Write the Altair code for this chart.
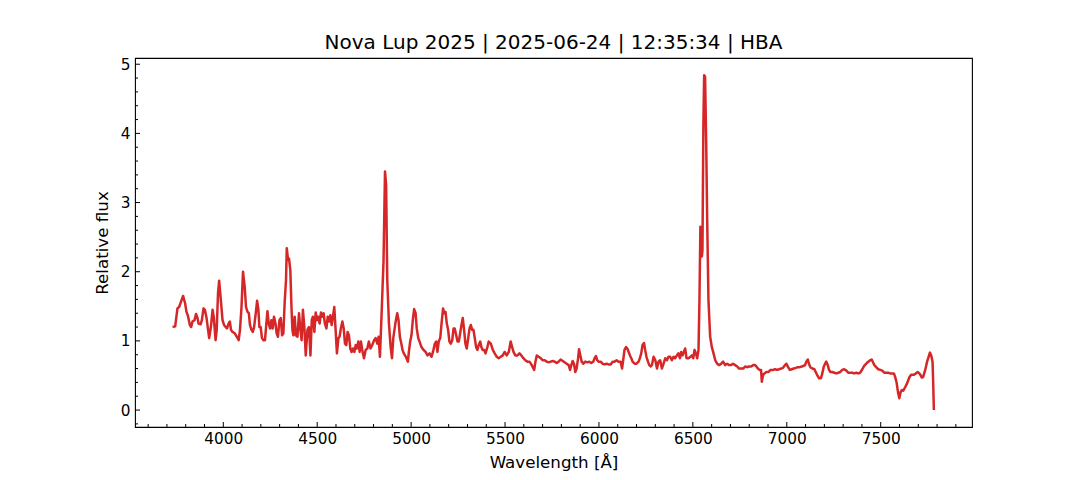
import altair as alt
import pandas as pd

wavelength = [
    3730, 3744, 3756, 3765, 3778, 3786, 3797, 3804, 3811, 3822, 3829, 3836, 3847, 3855, 3863, 3868,
    3879, 3886, 3895, 3902, 3911, 3918, 3925, 3934, 3943, 3949, 3959, 3965, 3972, 3978, 3987, 3996,
    4004, 4013, 4020, 4028, 4035, 4041, 4049, 4061, 4072, 4082, 4089, 4097, 4105, 4114, 4121, 4129,
    4136, 4142, 4150, 4157, 4164, 4173, 4180, 4187, 4192, 4199, 4206, 4214, 4222, 4231, 4235, 4242,
    4249, 4256, 4263, 4270, 4278, 4284, 4291, 4299, 4306, 4313, 4320, 4327, 4334, 4338, 4345, 4350,
    4357, 4363, 4368, 4373, 4380, 4387, 4395, 4403, 4410, 4417, 4424, 4432, 4439, 4448, 4456, 4464,
    4471, 4477, 4485, 4492, 4499, 4506, 4513, 4520, 4527, 4534, 4541, 4549, 4556, 4563, 4570, 4577,
    4584, 4591, 4598, 4605, 4613, 4619, 4626, 4634, 4641, 4648, 4655, 4662, 4669, 4676, 4683, 4690,
    4698, 4705, 4711, 4719, 4726, 4733, 4740, 4749, 4758, 4767, 4775, 4784, 4793, 4803, 4811, 4820,
    4827, 4834, 4843, 4848, 4853, 4861, 4867, 4873, 4882, 4891, 4898, 4905, 4916, 4926, 4933, 4940,
    4948, 4954, 4961, 4972, 4983, 4988, 4995, 5002, 5009, 5016, 5024, 5030, 5038, 5045, 5055, 5066,
    5077, 5087, 5098, 5109, 5119, 5126, 5134, 5140, 5147, 5155, 5162, 5170, 5176, 5183, 5190, 5197,
    5204, 5211, 5219, 5226, 5232, 5240, 5247, 5254, 5261, 5268, 5275, 5282, 5289, 5296, 5304, 5311,
    5318, 5325, 5332, 5339, 5346, 5353, 5360, 5368, 5374, 5381, 5389, 5396, 5406, 5413, 5424, 5435,
    5445, 5456, 5466, 5477, 5488, 5498, 5509, 5520, 5530, 5538, 5545, 5555, 5566, 5577, 5587, 5598,
    5608, 5619, 5630, 5640, 5655, 5662, 5669, 5679, 5690, 5700, 5711, 5722, 5732, 5743, 5754, 5764,
    5775, 5785, 5796, 5807, 5817, 5828, 5839, 5846, 5853, 5860, 5867, 5874, 5881, 5889, 5894, 5901,
    5908, 5917, 5927, 5938, 5949, 5959, 5970, 5977, 5984, 5991, 5998, 6009, 6019, 6030, 6041, 6051,
    6062, 6073, 6083, 6094, 6104, 6115, 6123, 6129, 6136, 6144, 6151, 6158, 6165, 6172, 6179, 6190,
    6200, 6211, 6218, 6225, 6232, 6240, 6246, 6253, 6261, 6268, 6275, 6282, 6291, 6300, 6309, 6317,
    6326, 6335, 6344, 6353, 6362, 6370, 6379, 6388, 6397, 6406, 6415, 6423, 6431, 6438, 6445, 6452,
    6459, 6466, 6477, 6487, 6495, 6502, 6509, 6516, 6523, 6530, 6535, 6540, 6548, 6551, 6556, 6560,
    6565, 6571, 6576, 6583, 6592, 6601, 6610, 6619, 6629, 6640, 6651, 6661, 6672, 6682, 6693, 6704,
    6714, 6725, 6736, 6746, 6757, 6768, 6778, 6789, 6799, 6810, 6821, 6831, 6838, 6846, 6856, 6863,
    6867, 6874, 6881, 6891, 6902, 6913, 6927, 6938, 6948, 6959, 6970, 6980, 6991, 6998, 7005, 7016,
    7026, 7037, 7048, 7058, 7069, 7080, 7090, 7097, 7104, 7112, 7118, 7125, 7136, 7147, 7154, 7161,
    7172, 7182, 7189, 7197, 7204, 7210, 7218, 7225, 7232, 7242, 7253, 7264, 7274, 7285, 7295, 7306,
    7317, 7327, 7338, 7349, 7359, 7370, 7381, 7391, 7402, 7412, 7423, 7434, 7444, 7452, 7459, 7466,
    7476, 7487, 7498, 7508, 7519, 7529, 7540, 7551, 7570, 7577, 7585, 7592, 7599, 7606, 7613, 7620,
    7630, 7641, 7652, 7662, 7677, 7687, 7698, 7709, 7719, 7726, 7737, 7747, 7755, 7762, 7769, 7776,
    7779, 7783,
]

flux = [
    1.20, 1.21, 1.47, 1.49, 1.59, 1.65, 1.54, 1.42, 1.37, 1.23, 1.20, 1.28, 1.30, 1.39, 1.33, 1.25,
    1.24, 1.30, 1.47, 1.45, 1.33, 1.18, 1.04, 1.20, 1.45, 1.35, 1.01, 1.16, 1.69, 1.87, 1.59, 1.30,
    1.23, 1.20, 1.18, 1.25, 1.28, 1.16, 1.13, 1.11, 1.06, 1.01, 1.16, 1.49, 2.00, 1.78, 1.49, 1.42,
    1.40, 1.23, 1.16, 1.13, 1.20, 1.40, 1.58, 1.45, 1.20, 1.20, 1.04, 1.01, 1.01, 1.30, 1.43, 1.25,
    1.18, 1.30, 1.18, 1.35, 1.25, 1.11, 1.06, 1.30, 1.33, 1.08, 1.11, 1.57, 1.88, 2.34, 2.17, 2.19,
    2.02, 1.49, 1.16, 1.08, 1.35, 1.08, 1.06, 1.40, 1.18, 1.01, 1.45, 1.18, 0.79, 1.16, 1.20, 0.79,
    1.30, 1.35, 1.13, 1.41, 1.30, 1.35, 1.25, 1.41, 1.35, 1.40, 1.25, 1.18, 1.35, 1.28, 1.37, 1.23,
    1.35, 1.49, 1.16, 0.82, 1.04, 1.06, 1.18, 1.28, 1.18, 0.96, 0.94, 1.13, 1.08, 0.89, 0.84, 0.89,
    0.84, 0.94, 0.89, 0.99, 0.84, 0.99, 0.87, 0.75, 0.87, 0.89, 0.99, 0.89, 0.94, 1.01, 1.04, 0.96,
    1.06, 0.77, 1.40, 1.78, 2.14, 3.45, 3.25, 1.88, 1.25, 0.91, 0.75, 1.04, 1.25, 1.40, 1.30, 1.06,
    0.96, 0.87, 0.82, 0.77, 0.70, 0.84, 0.99, 1.08, 1.30, 1.46, 1.40, 1.18, 1.04, 0.99, 0.91, 0.87,
    0.84, 0.79, 0.82, 0.77, 0.87, 0.96, 0.99, 0.84, 0.99, 1.04, 1.25, 1.47, 1.40, 1.42, 1.25, 1.16,
    0.99, 0.96, 1.01, 1.18, 1.18, 1.08, 0.99, 0.99, 1.11, 1.23, 1.33, 1.16, 0.96, 0.89, 1.04, 1.18,
    1.23, 1.16, 1.16, 1.04, 0.91, 0.87, 0.94, 0.99, 0.91, 0.87, 0.87, 0.82, 0.91, 0.99, 0.96, 0.87,
    0.82, 0.77, 0.75, 0.77, 0.79, 0.84, 0.79, 0.84, 0.99, 0.91, 0.84, 0.79, 0.79, 0.82, 0.79, 0.75,
    0.72, 0.70, 0.70, 0.66, 0.58, 0.70, 0.79, 0.77, 0.75, 0.72, 0.72, 0.70, 0.69, 0.70, 0.71, 0.70,
    0.68, 0.70, 0.73, 0.71, 0.69, 0.67, 0.65, 0.58, 0.65, 0.71, 0.67, 0.55, 0.60, 0.75, 0.88, 0.79,
    0.70, 0.67, 0.70, 0.69, 0.70, 0.68, 0.70, 0.75, 0.78, 0.72, 0.70, 0.70, 0.67, 0.66, 0.67, 0.66,
    0.66, 0.70, 0.70, 0.72, 0.70, 0.70, 0.60, 0.72, 0.87, 0.91, 0.89, 0.84, 0.79, 0.75, 0.70, 0.67,
    0.67, 0.70, 0.75, 0.82, 0.94, 0.97, 0.87, 0.77, 0.70, 0.65, 0.63, 0.65, 0.77, 0.72, 0.60, 0.70,
    0.72, 0.60, 0.67, 0.75, 0.72, 0.77, 0.77, 0.72, 0.77, 0.75, 0.79, 0.82, 0.75, 0.84, 0.79, 0.84,
    0.89, 0.75, 0.75, 0.77, 0.79, 0.75, 0.87, 0.82, 0.75, 0.87, 1.59, 2.65, 2.22, 2.31, 4.14, 4.84,
    4.82, 3.85, 2.79, 1.59, 1.06, 0.91, 0.82, 0.72, 0.67, 0.65, 0.67, 0.70, 0.65, 0.67, 0.65, 0.65,
    0.67, 0.65, 0.63, 0.60, 0.60, 0.60, 0.63, 0.62, 0.63, 0.63, 0.65, 0.65, 0.63, 0.60, 0.58, 0.58,
    0.41, 0.51, 0.53, 0.55, 0.55, 0.58, 0.58, 0.59, 0.58, 0.59, 0.60, 0.61, 0.65, 0.67, 0.63, 0.58,
    0.59, 0.60, 0.61, 0.62, 0.62, 0.63, 0.64, 0.65, 0.70, 0.73, 0.67, 0.62, 0.60, 0.59, 0.55, 0.51,
    0.46, 0.46, 0.53, 0.63, 0.67, 0.70, 0.65, 0.58, 0.55, 0.55, 0.54, 0.53, 0.54, 0.55, 0.58, 0.59,
    0.57, 0.54, 0.54, 0.54, 0.53, 0.54, 0.53, 0.54, 0.59, 0.64, 0.67, 0.70, 0.72, 0.73, 0.69, 0.65,
    0.62, 0.59, 0.58, 0.57, 0.54, 0.54, 0.54, 0.53, 0.53, 0.48, 0.39, 0.26, 0.17, 0.26, 0.29, 0.28,
    0.33, 0.39, 0.47, 0.51, 0.51, 0.53, 0.55, 0.52, 0.47, 0.48, 0.58, 0.70, 0.77, 0.83, 0.79, 0.70,
    0.43, 0.00,
]

x_major = [4000, 4500, 5000, 5500, 6000, 6500, 7000, 7500]
x_minor = [v for v in range(3600, 8000, 100) if v % 500 != 0]
y_major = [0, 1, 2, 3, 4, 5]
y_minor = [round(-0.2 + 0.2 * i, 1) for i in range(27) if (i - 1) % 5 != 0]

TITLE = "Nova Lup 2025 | 2025-06-24 | 12:35:34 | HBA"
FONT = "DejaVu Sans"
W, H = 837, 369
TICK_FS = 15.3
LABEL_FS = 16.7
TITLE_FS = 20

xscale = alt.Scale(domain=[3530, 7986], nice=False, zero=False)
yscale = alt.Scale(domain=[-0.245, 5.09], nice=False, zero=False)

xaxis = alt.Axis(values=x_major, format="d", ticks=False, domain=False, grid=False,
                 labelFont=FONT, labelFontSize=TICK_FS, labelColor="black", labelPadding=4,
                 labelFlush=False, title="Wavelength [Å]", titleFont=FONT, titleFontSize=LABEL_FS,
                 titleFontWeight="normal", titleColor="black", titlePadding=8)
yaxis = alt.Axis(values=y_major, format="d", ticks=False, domain=False, grid=False,
                 labelFont=FONT, labelFontSize=TICK_FS, labelColor="black", labelPadding=5,
                 labelFlush=False, title="Relative flux", titleFont=FONT, titleFontSize=LABEL_FS,
                 titleFontWeight="normal", titleColor="black", titlePadding=9)

spec = pd.DataFrame({"wavelength": wavelength, "flux": flux})

line = alt.Chart(spec).mark_line(color="#d62728", strokeWidth=2.5, strokeJoin="round").encode(
    x=alt.X("wavelength:Q", scale=xscale, axis=xaxis, title="Wavelength [Å]"),
    y=alt.Y("flux:Q", scale=yscale, axis=yaxis, title="Relative flux"),
)

def xticks(vals, length):
    return alt.Chart(pd.DataFrame({"wavelength": vals})).mark_rule(color="black", strokeWidth=1).encode(
        x=alt.X("wavelength:Q", scale=xscale, axis=xaxis, title="Wavelength [Å]"),
        y=alt.value(H), y2=alt.value(H - length),
    )

def yticks(vals, length):
    return alt.Chart(pd.DataFrame({"flux": vals})).mark_rule(color="black", strokeWidth=1).encode(
        y=alt.Y("flux:Q", scale=yscale, axis=yaxis, title="Relative flux"),
        x=alt.value(0), x2=alt.value(length),
    )

chart = alt.layer(
    line,
    xticks(x_major, 5), xticks(x_minor, 3),
    yticks(y_major, 5), yticks(y_minor, 3),
).properties(
    width=W, height=H,
    title=alt.TitleParams(text=TITLE, font=FONT, fontSize=TITLE_FS, fontWeight="normal",
                          color="black", anchor="middle", offset=4),
    autosize=alt.AutoSizeParams(type="none"),
    padding={"left": 127, "top": 50, "right": 100, "bottom": 45},
    background="white",
).configure_view(stroke="black", strokeWidth=1.1)

chart.save("out.html", embed_options={"renderer": "svg", "actions": False})
